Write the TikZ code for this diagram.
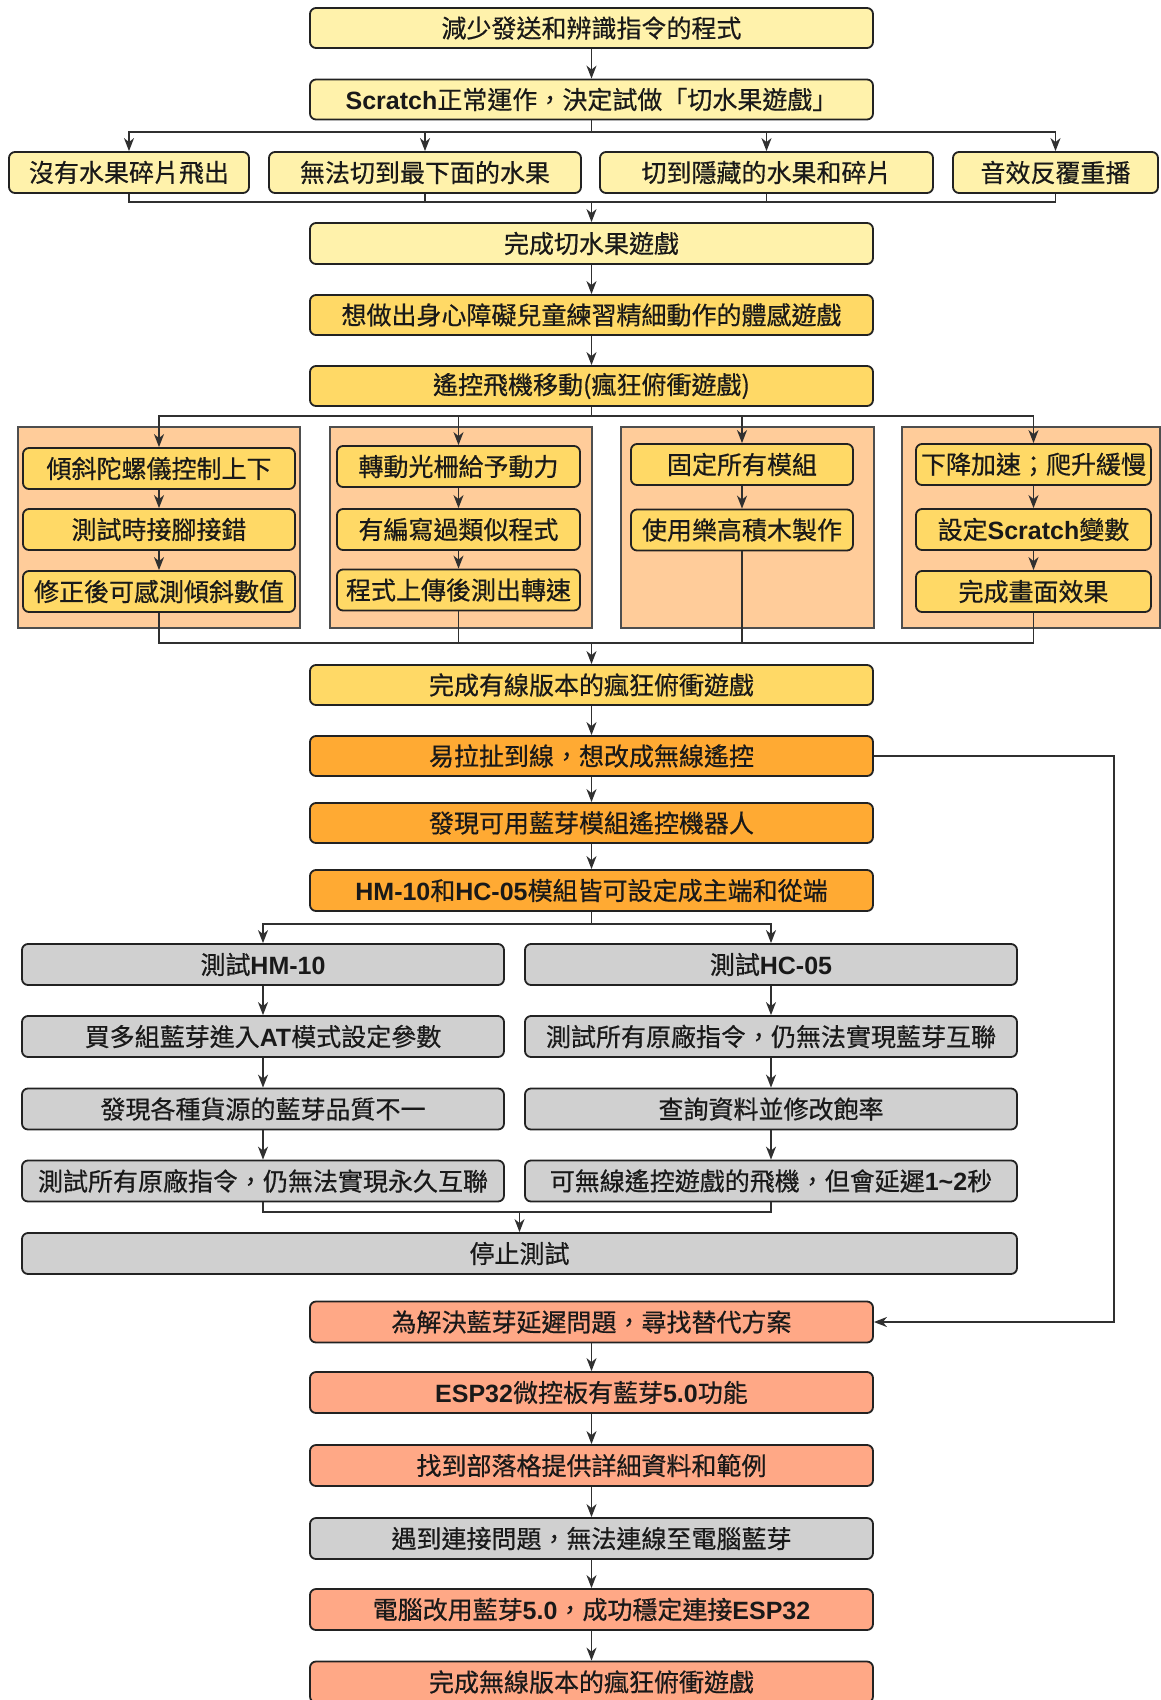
\documentclass[tikz,border=0pt]{standalone}
\usepackage{fontspec}
\setmainfont{Noto Sans CJK TC}[Script=CJK, Language=Chinese Traditional, FakeBold=0.5]
\newfontfamily\latfont{Liberation Sans}
\newcommand\lat[1]{{\latfont\bfseries #1}}
\usetikzlibrary{arrows.meta}
\definecolor{ylight}{HTML}{FFF2AB}
\definecolor{ymid}{HTML}{FFD966}
\definecolor{orng}{HTML}{FFAA33}
\definecolor{gry}{HTML}{D0D0D0}
\definecolor{salm}{HTML}{FFA886}
\definecolor{cont}{HTML}{FFCC9A}
\definecolor{edge}{HTML}{222222}
\definecolor{wire}{HTML}{303030}
\tikzset{
  box/.style={draw=edge, line width=1.8pt, rounded corners=6pt, inner sep=0pt,
    minimum height=41pt, text=black!90, font=\fontsize{25}{29}\selectfont},
  yl/.style={box, fill=ylight},
  ym/.style={box, fill=ymid},
  og/.style={box, fill=orng},
  gy/.style={box, fill=gry},
  sm/.style={box, fill=salm},
  container/.style={draw=edge!80, line width=1.6pt, fill=cont, inner sep=0pt, minimum height=201pt},
  wireline/.style={draw=wire, line width=1.6pt},
  arr/.style={wireline, -{Stealth[length=13pt,width=10pt,inset=4pt]}}
}
\begin{document}
\begin{tikzpicture}[x=1pt,y=-1pt]
\useasboundingbox (0,0) rectangle (1161,1700);
% main column top
\node[yl, minimum width=563pt, minimum height=40pt] (r1) at (591.5,28) {減少發送和辨識指令的程式};
\node[yl, minimum width=563pt, minimum height=40pt] (r2) at (591.5,99.5) {\lat{Scratch}正常運作，決定試做「切水果遊戲」};
\node[yl, minimum width=240pt] (r3a) at (129,172.5) {沒有水果碎片飛出};
\node[yl, minimum width=312pt] (r3b) at (425,172.5) {無法切到最下面的水果};
\node[yl, minimum width=333pt] (r3c) at (766.5,172.5) {切到隱藏的水果和碎片};
\node[yl, minimum width=205pt] (r3d) at (1055.5,172.5) {音效反覆重播};
\node[yl, minimum width=563pt] (r4) at (591.5,243.5) {完成切水果遊戲};
\node[ym, minimum width=563pt, minimum height=40pt] (r5) at (591.5,315) {想做出身心障礙兒童練習精細動作的體感遊戲};
\node[ym, minimum width=563pt, minimum height=40pt] (r6) at (591.5,386) {遙控飛機移動(瘋狂俯衝遊戲)};
% containers
\node[container, minimum width=282pt] (c1) at (159,527.5) {};
\node[container, minimum width=262pt] (c2) at (461,527.5) {};
\node[container, minimum width=253pt] (c3) at (747.5,527.5) {};
\node[container, minimum width=258pt] (c4) at (1031,527.5) {};
% inner boxes
\node[ym, minimum width=272pt] (c1a) at (159,468.5) {傾斜陀螺儀控制上下};
\node[ym, minimum width=272pt] (c1b) at (159,529.5) {測試時接腳接錯};
\node[ym, minimum width=272pt] (c1c) at (159,591.5) {修正後可感測傾斜數值};
\node[ym, minimum width=243pt] (c2a) at (458.5,466.5) {轉動光柵給予動力};
\node[ym, minimum width=243pt] (c2b) at (458.5,529.5) {有編寫過類似程式};
\node[ym, minimum width=243pt] (c2c) at (458.5,590) {程式上傳後測出轉速};
\node[ym, minimum width=222pt] (c3a) at (742,464.5) {固定所有模組};
\node[ym, minimum width=222pt] (c3b) at (742,530) {使用樂高積木製作};
\node[ym, minimum width=235pt] (c4a) at (1033.5,464.5) {下降加速；爬升緩慢};
\node[ym, minimum width=235pt] (c4b) at (1033.5,529.5) {設定\lat{Scratch}變數};
\node[ym, minimum width=235pt] (c4c) at (1033.5,591.5) {完成畫面效果};
% middle
\node[ym, minimum width=563pt, minimum height=40pt] (r7) at (591.5,685) {完成有線版本的瘋狂俯衝遊戲};
\node[og, minimum width=563pt, minimum height=40pt] (r8) at (591.5,756) {易拉扯到線，想改成無線遙控};
\node[og, minimum width=563pt, minimum height=40pt] (r9) at (591.5,823) {發現可用藍芽模組遙控機器人};
\node[og, minimum width=563pt] (r10) at (591.5,890.5) {\lat{HM-10}和\lat{HC-05}模組皆可設定成主端和從端};
% bluetooth test columns
\node[gy, minimum width=482pt] (l1) at (263,964.5) {測試\lat{HM-10}};
\node[gy, minimum width=482pt] (l2) at (263,1036.5) {買多組藍芽進入\lat{AT}模式設定參數};
\node[gy, minimum width=482pt] (l3) at (263,1109) {發現各種貨源的藍芽品質不一};
\node[gy, minimum width=482pt] (l4) at (263,1181) {測試所有原廠指令，仍無法實現永久互聯};
\node[gy, minimum width=492pt] (q1) at (771,964.5) {測試\lat{HC-05}};
\node[gy, minimum width=492pt] (q2) at (771,1036.5) {測試所有原廠指令，仍無法實現藍芽互聯};
\node[gy, minimum width=492pt] (q3) at (771,1109) {查詢資料並修改飽率};
\node[gy, minimum width=492pt] (q4) at (771,1181) {可無線遙控遊戲的飛機，但會延遲\lat{1\textasciitilde 2}秒};
\node[gy, minimum width=995pt] (stop) at (519.5,1253.5) {停止測試};
% bottom column
\node[sm, minimum width=563pt] (s1) at (591.5,1322) {為解決藍芽延遲問題，尋找替代方案};
\node[sm, minimum width=563pt] (s2) at (591.5,1392.5) {\lat{ESP32}微控板有藍芽\lat{5.0}功能};
\node[sm, minimum width=563pt] (s3) at (591.5,1465.5) {找到部落格提供詳細資料和範例};
\node[gy, minimum width=563pt] (s4) at (591.5,1538.5) {遇到連接問題，無法連線至電腦藍芽};
\node[sm, minimum width=563pt] (s5) at (591.5,1609.5) {電腦改用藍芽\lat{5.0}，成功穩定連接\lat{ESP32}};
\node[sm, minimum width=563pt] (s6) at (591.5,1682) {完成無線版本的瘋狂俯衝遊戲};
% junction coordinates
\coordinate (j1) at (591.5,132);
\coordinate (m1) at (591.5,202);
\coordinate (j2) at (591.5,416);
\coordinate (m2) at (591.5,643);
\coordinate (j3) at (591.5,924);
\coordinate (m3) at (519.5,1212);
\coordinate (k1) at (1114,756);
\coordinate (k2) at (1114,1322);
% connectors
\draw[arr] (r1) -- (r2);
\draw[wireline] (r2) -- (j1);
\draw[arr] (j1) -| (r3a);
\draw[arr] (j1) -| (r3b);
\draw[arr] (j1) -| (r3c);
\draw[arr] (j1) -| (r3d);
\draw[wireline] (r3a.south) |- (m1);
\draw[wireline] (r3b.south) |- (m1);
\draw[wireline] (r3c.south) |- (m1);
\draw[wireline] (r3d.south) |- (m1);
\draw[arr] (m1) -- (r4);
\draw[arr] (r4) -- (r5);
\draw[arr] (r5) -- (r6);
\draw[wireline] (r6) -- (j2);
\draw[arr] (j2) -| (c1a);
\draw[arr] (j2) -| (c2a);
\draw[arr] (j2) -| (c3a);
\draw[arr] (j2) -| (c4a);
\draw[arr] (c1a) -- (c1b);
\draw[arr] (c1b) -- (c1c);
\draw[arr] (c2a) -- (c2b);
\draw[arr] (c2b) -- (c2c);
\draw[arr] (c3a) -- (c3b);
\draw[arr] (c4a) -- (c4b);
\draw[arr] (c4b) -- (c4c);
\draw[wireline] (c1c.south) |- (m2);
\draw[wireline] (c2c.south) |- (m2);
\draw[wireline] (c3b.south) |- (m2);
\draw[wireline] (c4c.south) |- (m2);
\draw[arr] (m2) -- (r7);
\draw[arr] (r7) -- (r8);
\draw[arr] (r8) -- (r9);
\draw[arr] (r9) -- (r10);
\draw[wireline] (r10) -- (j3);
\draw[arr] (j3) -| (l1);
\draw[arr] (j3) -| (q1);
\draw[arr] (l1) -- (l2);
\draw[arr] (l2) -- (l3);
\draw[arr] (l3) -- (l4);
\draw[arr] (q1) -- (q2);
\draw[arr] (q2) -- (q3);
\draw[arr] (q3) -- (q4);
\draw[wireline] (l4.south) |- (m3);
\draw[wireline] (q4.south) |- (m3);
\draw[arr] (m3) -- (stop);
\draw[arr] (r8.east) -- (k1) -- (k2) -- (s1.east);
\draw[arr] (s1) -- (s2);
\draw[arr] (s2) -- (s3);
\draw[arr] (s3) -- (s4);
\draw[arr] (s4) -- (s5);
\draw[arr] (s5) -- (s6);
\end{tikzpicture}
\end{document}
